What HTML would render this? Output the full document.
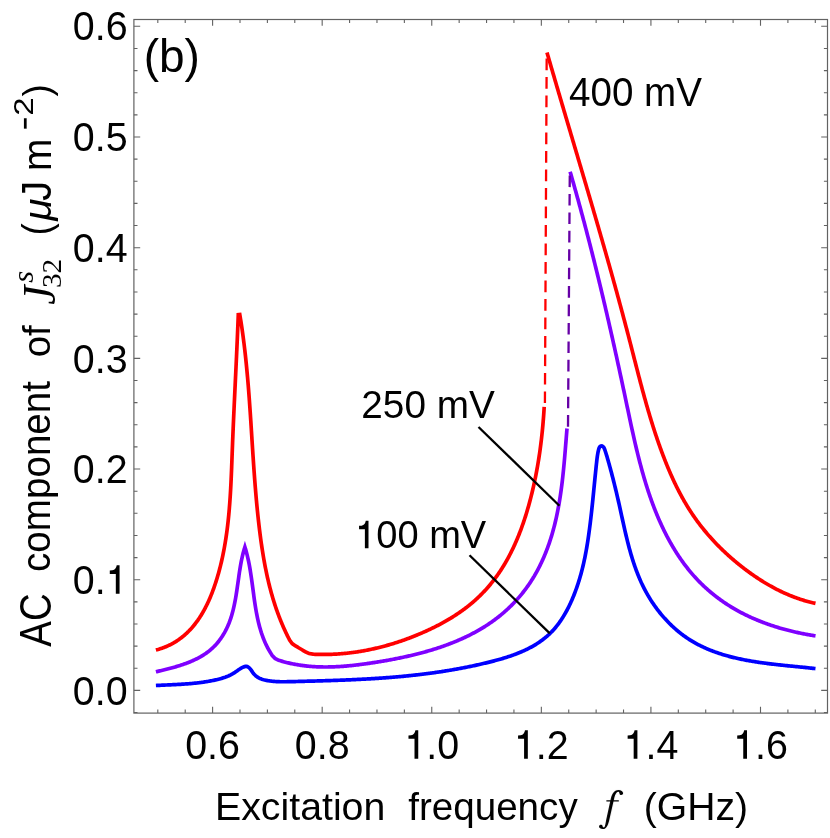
<!DOCTYPE html>
<html><head><meta charset="utf-8"><title>chart</title>
<style>
html,body{margin:0;padding:0;background:#fff;}
body{width:830px;height:838px;overflow:hidden;}
svg{display:block;}
text{font-family:"Liberation Sans",sans-serif;fill:#000;}
</style></head><body>
<svg width="830" height="838" viewBox="0 0 830 838">
<rect x="0" y="0" width="830" height="838" fill="#ffffff"/>
<rect x="133.9" y="19.5" width="693.60" height="693.60" fill="none" stroke="#626262" stroke-width="1.2"/>
<path d="M157.81 713.1 v-3.6 M157.81 19.5 v3.6 M185.21 713.1 v-3.6 M185.21 19.5 v3.6 M212.60 713.1 v-6.3 M212.60 19.5 v6.3 M240.00 713.1 v-3.6 M240.00 19.5 v3.6 M267.39 713.1 v-3.6 M267.39 19.5 v3.6 M294.78 713.1 v-3.6 M294.78 19.5 v3.6 M322.18 713.1 v-6.3 M322.18 19.5 v6.3 M349.58 713.1 v-3.6 M349.58 19.5 v3.6 M376.97 713.1 v-3.6 M376.97 19.5 v3.6 M404.37 713.1 v-3.6 M404.37 19.5 v3.6 M431.76 713.1 v-6.3 M431.76 19.5 v6.3 M459.16 713.1 v-3.6 M459.16 19.5 v3.6 M486.55 713.1 v-3.6 M486.55 19.5 v3.6 M513.94 713.1 v-3.6 M513.94 19.5 v3.6 M541.34 713.1 v-6.3 M541.34 19.5 v6.3 M568.74 713.1 v-3.6 M568.74 19.5 v3.6 M596.13 713.1 v-3.6 M596.13 19.5 v3.6 M623.53 713.1 v-3.6 M623.53 19.5 v3.6 M650.92 713.1 v-6.3 M650.92 19.5 v6.3 M678.32 713.1 v-3.6 M678.32 19.5 v3.6 M705.71 713.1 v-3.6 M705.71 19.5 v3.6 M733.11 713.1 v-3.6 M733.11 19.5 v3.6 M760.50 713.1 v-6.3 M760.50 19.5 v6.3 M787.90 713.1 v-3.6 M787.90 19.5 v3.6 M815.29 713.1 v-3.6 M815.29 19.5 v3.6 M133.9 712.54 h3.6 M827.5 712.54 h-3.6 M133.9 690.40 h6.3 M827.5 690.40 h-6.3 M133.9 668.26 h3.6 M827.5 668.26 h-3.6 M133.9 646.13 h3.6 M827.5 646.13 h-3.6 M133.9 623.99 h3.6 M827.5 623.99 h-3.6 M133.9 601.86 h3.6 M827.5 601.86 h-3.6 M133.9 579.72 h6.3 M827.5 579.72 h-6.3 M133.9 557.58 h3.6 M827.5 557.58 h-3.6 M133.9 535.45 h3.6 M827.5 535.45 h-3.6 M133.9 513.31 h3.6 M827.5 513.31 h-3.6 M133.9 491.18 h3.6 M827.5 491.18 h-3.6 M133.9 469.04 h6.3 M827.5 469.04 h-6.3 M133.9 446.90 h3.6 M827.5 446.90 h-3.6 M133.9 424.77 h3.6 M827.5 424.77 h-3.6 M133.9 402.63 h3.6 M827.5 402.63 h-3.6 M133.9 380.50 h3.6 M827.5 380.50 h-3.6 M133.9 358.36 h6.3 M827.5 358.36 h-6.3 M133.9 336.22 h3.6 M827.5 336.22 h-3.6 M133.9 314.09 h3.6 M827.5 314.09 h-3.6 M133.9 291.95 h3.6 M827.5 291.95 h-3.6 M133.9 269.82 h3.6 M827.5 269.82 h-3.6 M133.9 247.68 h6.3 M827.5 247.68 h-6.3 M133.9 225.54 h3.6 M827.5 225.54 h-3.6 M133.9 203.41 h3.6 M827.5 203.41 h-3.6 M133.9 181.27 h3.6 M827.5 181.27 h-3.6 M133.9 159.14 h3.6 M827.5 159.14 h-3.6 M133.9 137.00 h6.3 M827.5 137.00 h-6.3 M133.9 114.86 h3.6 M827.5 114.86 h-3.6 M133.9 92.73 h3.6 M827.5 92.73 h-3.6 M133.9 70.59 h3.6 M827.5 70.59 h-3.6 M133.9 48.46 h3.6 M827.5 48.46 h-3.6 M133.9 26.32 h6.3 M827.5 26.32 h-6.3" fill="none" stroke="#626262" stroke-width="1.1"/>
<path d="M155.90 685.50 L156.90 685.45 L157.90 685.40 L158.90 685.35 L159.90 685.30 L160.90 685.25 L161.90 685.20 L162.90 685.16 L163.90 685.11 L164.90 685.07 L165.90 685.02 L166.90 684.98 L167.90 684.93 L168.90 684.89 L169.90 684.84 L170.90 684.80 L171.90 684.75 L172.90 684.70 L173.90 684.65 L174.89 684.61 L175.89 684.55 L176.89 684.50 L177.89 684.45 L178.89 684.39 L179.88 684.34 L180.88 684.28 L181.88 684.22 L182.88 684.16 L183.87 684.09 L184.87 684.02 L185.87 683.95 L186.86 683.88 L187.86 683.81 L188.85 683.73 L189.85 683.64 L190.84 683.56 L191.84 683.47 L192.83 683.38 L193.83 683.28 L194.82 683.18 L195.81 683.08 L196.81 682.97 L197.80 682.86 L198.79 682.74 L199.78 682.62 L200.78 682.49 L201.77 682.36 L202.76 682.22 L203.75 682.08 L204.74 681.94 L205.73 681.78 L206.72 681.63 L207.70 681.46 L208.69 681.29 L209.68 681.12 L210.67 680.94 L211.65 680.75 L212.64 680.55 L213.63 680.35 L214.61 680.15 L215.60 679.93 L216.58 679.71 L217.56 679.47 L218.53 679.23 L219.50 678.97 L220.47 678.71 L221.44 678.43 L222.39 678.14 L223.34 677.84 L224.29 677.52 L225.23 677.19 L226.16 676.84 L227.08 676.48 L228.00 676.10 L228.90 675.70 L229.80 675.28 L230.68 674.85 L231.55 674.39 L232.42 673.92 L233.26 673.42 L234.10 672.90 L234.93 672.36 L235.74 671.80 L236.55 671.23 L237.37 670.66 L238.19 670.08 L239.02 669.51 L239.87 668.96 L240.75 668.42 L241.65 667.91 L242.59 667.43 L243.56 666.99 L244.56 666.64 L245.53 666.42 L246.47 666.38 L247.35 666.57 L248.16 666.97 L248.92 667.54 L249.65 668.25 L250.34 669.07 L251.02 669.96 L251.68 670.91 L252.34 671.86 L253.02 672.81 L253.71 673.70 L254.43 674.52 L255.17 675.27 L255.94 675.95 L256.74 676.57 L257.55 677.13 L258.39 677.63 L259.24 678.08 L260.11 678.49 L261.00 678.86 L261.90 679.18 L262.81 679.48 L263.73 679.74 L264.66 679.98 L265.59 680.20 L266.54 680.40 L267.48 680.58 L268.44 680.75 L269.40 680.90 L270.36 681.04 L271.33 681.16 L272.30 681.27 L273.27 681.36 L274.25 681.45 L275.24 681.52 L276.23 681.58 L277.22 681.63 L278.21 681.67 L279.21 681.70 L280.21 681.73 L281.21 681.74 L282.21 681.75 L283.21 681.76 L284.22 681.75 L285.23 681.75 L286.24 681.73 L287.25 681.72 L288.26 681.70 L289.27 681.68 L290.29 681.65 L291.30 681.63 L292.31 681.60 L293.32 681.58 L294.33 681.55 L295.34 681.53 L296.35 681.50 L297.37 681.48 L298.38 681.45 L299.39 681.43 L300.40 681.40 L301.40 681.38 L302.41 681.35 L303.42 681.32 L304.43 681.30 L305.44 681.27 L306.45 681.25 L307.45 681.22 L308.46 681.19 L309.47 681.17 L310.48 681.14 L311.48 681.11 L312.49 681.09 L313.49 681.06 L314.50 681.03 L315.51 681.00 L316.51 680.98 L317.52 680.95 L318.52 680.92 L319.53 680.89 L320.53 680.86 L321.53 680.83 L322.54 680.80 L323.54 680.77 L324.54 680.74 L325.55 680.71 L326.55 680.68 L327.55 680.65 L328.55 680.62 L329.56 680.58 L330.56 680.55 L331.56 680.52 L332.56 680.49 L333.56 680.45 L334.56 680.42 L335.56 680.38 L336.56 680.35 L337.56 680.31 L338.56 680.27 L339.56 680.24 L340.56 680.20 L341.56 680.16 L342.56 680.12 L343.56 680.08 L344.56 680.04 L345.56 680.00 L346.56 679.96 L347.55 679.92 L348.55 679.88 L349.55 679.84 L350.55 679.79 L351.54 679.75 L352.54 679.70 L353.54 679.66 L354.54 679.61 L355.53 679.57 L356.53 679.52 L357.52 679.47 L358.52 679.42 L359.52 679.37 L360.51 679.32 L361.51 679.27 L362.50 679.22 L363.50 679.17 L364.49 679.11 L365.49 679.06 L366.48 679.00 L367.48 678.95 L368.47 678.89 L369.47 678.83 L370.46 678.78 L371.45 678.72 L372.45 678.66 L373.44 678.59 L374.43 678.53 L375.43 678.47 L376.42 678.41 L377.41 678.34 L378.41 678.28 L379.40 678.21 L380.39 678.14 L381.39 678.07 L382.38 678.00 L383.37 677.93 L384.36 677.86 L385.35 677.79 L386.35 677.71 L387.34 677.64 L388.33 677.56 L389.32 677.49 L390.31 677.41 L391.30 677.33 L392.30 677.25 L393.29 677.17 L394.28 677.08 L395.27 677.00 L396.26 676.91 L397.25 676.83 L398.24 676.74 L399.23 676.65 L400.22 676.56 L401.21 676.47 L402.20 676.38 L403.19 676.29 L404.18 676.19 L405.17 676.10 L406.16 676.00 L407.15 675.90 L408.14 675.80 L409.13 675.70 L410.12 675.60 L411.11 675.49 L412.10 675.39 L413.09 675.28 L414.08 675.17 L415.07 675.06 L416.06 674.95 L417.05 674.84 L418.04 674.73 L419.03 674.61 L420.01 674.50 L421.00 674.38 L421.99 674.26 L422.98 674.14 L423.97 674.02 L424.96 673.89 L425.95 673.77 L426.94 673.64 L427.92 673.52 L428.91 673.39 L429.90 673.25 L430.89 673.12 L431.88 672.99 L432.87 672.85 L433.86 672.71 L434.84 672.57 L435.83 672.43 L436.82 672.29 L437.81 672.15 L438.80 672.00 L439.79 671.85 L440.78 671.71 L441.76 671.56 L442.75 671.40 L443.74 671.25 L444.73 671.09 L445.72 670.94 L446.71 670.78 L447.69 670.62 L448.68 670.45 L449.67 670.29 L450.66 670.12 L451.65 669.95 L452.64 669.78 L453.63 669.61 L454.61 669.44 L455.60 669.26 L456.59 669.09 L457.58 668.91 L458.57 668.73 L459.56 668.54 L460.55 668.36 L461.53 668.17 L462.52 667.98 L463.51 667.79 L464.50 667.60 L465.49 667.41 L466.48 667.21 L467.47 667.01 L468.46 666.81 L469.45 666.61 L470.43 666.40 L471.42 666.20 L472.41 665.99 L473.40 665.78 L474.39 665.57 L475.38 665.35 L476.37 665.13 L477.36 664.92 L478.35 664.69 L479.34 664.47 L480.33 664.25 L481.32 664.02 L482.31 663.79 L483.30 663.56 L484.29 663.32 L485.28 663.09 L486.27 662.85 L487.26 662.61 L488.25 662.37 L489.24 662.12 L490.23 661.87 L491.22 661.62 L492.21 661.37 L493.20 661.11 L494.18 660.86 L495.17 660.59 L496.16 660.33 L497.14 660.06 L498.12 659.79 L499.11 659.51 L500.09 659.23 L501.06 658.95 L502.04 658.66 L503.02 658.37 L503.99 658.08 L504.96 657.78 L505.93 657.47 L506.90 657.16 L507.86 656.85 L508.83 656.53 L509.79 656.21 L510.74 655.89 L511.70 655.55 L512.65 655.22 L513.60 654.87 L514.54 654.53 L515.48 654.17 L516.42 653.82 L517.35 653.45 L518.28 653.08 L519.21 652.71 L520.14 652.32 L521.05 651.94 L521.97 651.54 L522.88 651.14 L523.79 650.74 L524.69 650.32 L525.59 649.90 L526.48 649.48 L527.37 649.04 L528.25 648.60 L529.13 648.15 L530.00 647.70 L530.87 647.24 L531.73 646.77 L532.58 646.29 L533.43 645.81 L534.28 645.31 L535.12 644.81 L535.95 644.30 L536.78 643.79 L537.60 643.26 L538.41 642.73 L539.22 642.19 L540.02 641.64 L540.82 641.08 L541.60 640.51 L542.38 639.94 L543.16 639.35 L543.92 638.76 L544.68 638.15 L545.43 637.54 L546.18 636.92 L546.92 636.29 L547.64 635.65 L548.36 635.00 L549.08 634.34 L549.78 633.66 L550.48 632.98 L551.17 632.29 L551.85 631.59 L552.52 630.88 L553.18 630.16 L553.84 629.43 L554.49 628.69 L555.13 627.94 L555.76 627.19 L556.38 626.42 L557.00 625.65 L557.61 624.87 L558.21 624.08 L558.80 623.28 L559.38 622.47 L559.96 621.66 L560.53 620.84 L561.10 620.01 L561.65 619.18 L562.20 618.34 L562.74 617.49 L563.27 616.64 L563.80 615.78 L564.32 614.91 L564.83 614.04 L565.34 613.16 L565.84 612.28 L566.33 611.39 L566.81 610.50 L567.29 609.60 L567.76 608.70 L568.23 607.79 L568.69 606.88 L569.14 605.96 L569.58 605.04 L570.02 604.12 L570.46 603.19 L570.88 602.26 L571.30 601.33 L571.72 600.39 L572.12 599.46 L572.53 598.51 L572.92 597.57 L573.31 596.62 L573.70 595.68 L574.07 594.73 L574.45 593.78 L574.81 592.82 L575.17 591.87 L575.53 590.91 L575.88 589.96 L576.22 589.00 L576.56 588.05 L576.89 587.09 L577.22 586.13 L577.55 585.17 L577.86 584.22 L578.17 583.26 L578.48 582.30 L578.78 581.34 L579.08 580.39 L579.37 579.43 L579.66 578.47 L579.94 577.51 L580.22 576.55 L580.50 575.59 L580.77 574.63 L581.03 573.67 L581.29 572.71 L581.55 571.75 L581.80 570.79 L582.04 569.83 L582.29 568.87 L582.53 567.91 L582.76 566.95 L582.99 565.99 L583.22 565.02 L583.44 564.06 L583.66 563.09 L583.88 562.13 L584.09 561.16 L584.30 560.20 L584.51 559.23 L584.71 558.27 L584.91 557.30 L585.10 556.33 L585.29 555.36 L585.48 554.39 L585.67 553.42 L585.85 552.45 L586.03 551.48 L586.21 550.51 L586.38 549.53 L586.56 548.56 L586.72 547.58 L586.89 546.61 L587.05 545.63 L587.22 544.65 L587.37 543.68 L587.53 542.70 L587.69 541.72 L587.84 540.73 L587.99 539.75 L588.14 538.77 L588.28 537.78 L588.43 536.80 L588.57 535.81 L588.71 534.82 L588.85 533.84 L588.98 532.85 L589.12 531.86 L589.25 530.86 L589.38 529.87 L589.51 528.88 L589.64 527.88 L589.77 526.88 L589.90 525.88 L590.02 524.89 L590.15 523.89 L590.27 522.89 L590.39 521.88 L590.51 520.88 L590.63 519.88 L590.75 518.87 L590.87 517.87 L590.98 516.86 L591.10 515.86 L591.21 514.85 L591.33 513.85 L591.44 512.84 L591.55 511.83 L591.66 510.83 L591.77 509.82 L591.88 508.81 L591.99 507.80 L592.09 506.79 L592.20 505.79 L592.31 504.78 L592.41 503.77 L592.52 502.76 L592.62 501.75 L592.72 500.75 L592.83 499.74 L592.93 498.73 L593.03 497.73 L593.13 496.72 L593.23 495.71 L593.33 494.71 L593.43 493.70 L593.53 492.70 L593.63 491.70 L593.73 490.70 L593.83 489.69 L593.93 488.69 L594.03 487.69 L594.13 486.70 L594.23 485.70 L594.32 484.70 L594.42 483.71 L594.52 482.71 L594.62 481.72 L594.72 480.73 L594.81 479.73 L594.91 478.75 L595.01 477.76 L595.11 476.77 L595.21 475.79 L595.31 474.80 L595.41 473.82 L595.51 472.84 L595.61 471.86 L595.71 470.89 L595.81 469.91 L595.91 468.94 L596.01 467.97 L596.11 467.00 L596.21 466.03 L596.32 465.07 L596.42 464.11 L596.52 463.14 L596.63 462.19 L596.73 461.23 L596.84 460.28 L596.95 459.32 L597.06 458.37 L597.18 457.41 L597.31 456.44 L597.46 455.46 L597.62 454.47 L597.79 453.46 L597.99 452.44 L598.20 451.40 L598.44 450.33 L598.71 449.24 L599.04 448.18 L599.49 447.24 L600.09 446.49 L600.89 446.03 L601.78 445.95 L602.65 446.29 L603.39 446.93 L603.96 447.77 L604.41 448.73 L604.79 449.75 L605.14 450.76 L605.47 451.77 L605.79 452.75 L606.10 453.72 L606.40 454.68 L606.69 455.63 L606.97 456.58 L607.25 457.51 L607.52 458.45 L607.78 459.38 L608.05 460.31 L608.31 461.24 L608.58 462.18 L608.84 463.12 L609.10 464.06 L609.36 465.00 L609.62 465.94 L609.88 466.88 L610.13 467.83 L610.39 468.78 L610.65 469.73 L610.90 470.68 L611.15 471.63 L611.41 472.58 L611.66 473.54 L611.91 474.50 L612.16 475.45 L612.41 476.41 L612.66 477.38 L612.91 478.34 L613.15 479.30 L613.40 480.27 L613.64 481.23 L613.89 482.20 L614.13 483.17 L614.37 484.14 L614.61 485.11 L614.85 486.08 L615.09 487.05 L615.33 488.02 L615.56 489.00 L615.80 489.97 L616.03 490.95 L616.27 491.93 L616.50 492.91 L616.73 493.88 L616.96 494.86 L617.19 495.84 L617.42 496.82 L617.65 497.81 L617.87 498.79 L618.10 499.77 L618.32 500.75 L618.55 501.74 L618.77 502.72 L618.99 503.71 L619.21 504.69 L619.43 505.68 L619.65 506.66 L619.87 507.65 L620.08 508.63 L620.30 509.62 L620.52 510.61 L620.73 511.59 L620.95 512.58 L621.16 513.57 L621.38 514.55 L621.60 515.54 L621.81 516.53 L622.03 517.52 L622.24 518.50 L622.46 519.49 L622.68 520.48 L622.89 521.46 L623.11 522.45 L623.33 523.44 L623.55 524.42 L623.77 525.41 L623.99 526.39 L624.21 527.38 L624.43 528.36 L624.65 529.35 L624.88 530.33 L625.10 531.31 L625.33 532.30 L625.56 533.28 L625.79 534.26 L626.02 535.24 L626.26 536.22 L626.49 537.20 L626.73 538.18 L626.97 539.16 L627.21 540.13 L627.45 541.11 L627.69 542.08 L627.94 543.06 L628.19 544.03 L628.44 545.00 L628.70 545.97 L628.95 546.94 L629.21 547.91 L629.48 548.88 L629.74 549.85 L630.01 550.81 L630.28 551.78 L630.55 552.74 L630.83 553.70 L631.11 554.66 L631.39 555.62 L631.68 556.58 L631.97 557.54 L632.26 558.49 L632.56 559.44 L632.86 560.40 L633.16 561.35 L633.47 562.29 L633.78 563.24 L634.10 564.19 L634.42 565.13 L634.74 566.07 L635.07 567.01 L635.40 567.95 L635.74 568.89 L636.08 569.82 L636.43 570.75 L636.78 571.68 L637.14 572.61 L637.50 573.54 L637.86 574.46 L638.23 575.38 L638.61 576.30 L638.99 577.22 L639.37 578.14 L639.76 579.05 L640.16 579.96 L640.56 580.87 L640.96 581.78 L641.38 582.68 L641.79 583.59 L642.22 584.49 L642.65 585.38 L643.08 586.28 L643.52 587.17 L643.97 588.06 L644.42 588.95 L644.88 589.83 L645.35 590.71 L645.82 591.59 L646.30 592.47 L646.79 593.34 L647.28 594.21 L647.78 595.08 L648.28 595.94 L648.79 596.80 L649.31 597.66 L649.84 598.52 L650.37 599.37 L650.90 600.22 L651.45 601.06 L652.00 601.90 L652.55 602.74 L653.11 603.58 L653.68 604.41 L654.25 605.23 L654.83 606.06 L655.42 606.87 L656.01 607.69 L656.61 608.50 L657.21 609.30 L657.82 610.11 L658.44 610.90 L659.06 611.70 L659.69 612.48 L660.32 613.27 L660.96 614.05 L661.60 614.82 L662.25 615.59 L662.91 616.35 L663.57 617.11 L664.24 617.87 L664.91 618.61 L665.59 619.36 L666.27 620.10 L666.96 620.83 L667.65 621.55 L668.35 622.28 L669.05 622.99 L669.76 623.70 L670.48 624.41 L671.20 625.10 L671.92 625.80 L672.65 626.48 L673.39 627.16 L674.13 627.83 L674.87 628.50 L675.62 629.16 L676.38 629.82 L677.14 630.46 L677.90 631.10 L678.67 631.74 L679.44 632.37 L680.22 632.99 L681.01 633.60 L681.79 634.21 L682.59 634.81 L683.38 635.40 L684.19 635.98 L684.99 636.56 L685.80 637.13 L686.62 637.69 L687.44 638.25 L688.26 638.80 L689.09 639.33 L689.92 639.87 L690.76 640.39 L691.60 640.91 L692.44 641.42 L693.29 641.92 L694.15 642.41 L695.00 642.90 L695.86 643.38 L696.73 643.85 L697.60 644.31 L698.47 644.77 L699.35 645.22 L700.23 645.66 L701.11 646.10 L702.00 646.53 L702.89 646.95 L703.78 647.37 L704.68 647.78 L705.58 648.18 L706.48 648.58 L707.39 648.97 L708.30 649.35 L709.22 649.73 L710.13 650.10 L711.05 650.47 L711.98 650.83 L712.90 651.18 L713.83 651.53 L714.76 651.87 L715.70 652.21 L716.63 652.54 L717.57 652.86 L718.52 653.18 L719.46 653.49 L720.41 653.80 L721.36 654.10 L722.31 654.40 L723.27 654.69 L724.22 654.98 L725.18 655.26 L726.14 655.54 L727.11 655.81 L728.07 656.08 L729.04 656.34 L730.01 656.60 L730.99 656.85 L731.96 657.10 L732.94 657.34 L733.91 657.58 L734.89 657.81 L735.88 658.04 L736.86 658.27 L737.84 658.49 L738.83 658.71 L739.82 658.92 L740.81 659.13 L741.80 659.34 L742.79 659.54 L743.78 659.74 L744.78 659.94 L745.77 660.13 L746.77 660.31 L747.77 660.50 L748.77 660.68 L749.77 660.85 L750.77 661.03 L751.77 661.20 L752.78 661.37 L753.78 661.53 L754.78 661.69 L755.79 661.85 L756.79 662.01 L757.80 662.16 L758.81 662.31 L759.82 662.46 L760.82 662.60 L761.83 662.74 L762.84 662.88 L763.85 663.02 L764.86 663.16 L765.87 663.29 L766.88 663.42 L767.89 663.55 L768.90 663.68 L769.91 663.80 L770.92 663.92 L771.93 664.04 L772.94 664.16 L773.95 664.28 L774.96 664.40 L775.97 664.51 L776.97 664.62 L777.98 664.74 L778.99 664.85 L780.00 664.95 L781.00 665.06 L782.01 665.17 L783.02 665.27 L784.02 665.38 L785.02 665.48 L786.03 665.58 L787.03 665.69 L788.03 665.79 L789.03 665.89 L790.03 665.99 L791.03 666.09 L792.02 666.19 L793.02 666.28 L794.01 666.38 L795.01 666.48 L796.00 666.58 L796.99 666.68 L797.98 666.77 L798.97 666.87 L799.95 666.97 L800.94 667.07 L801.92 667.17 L802.90 667.27 L803.88 667.36 L804.86 667.46 L805.83 667.56 L806.81 667.67 L807.78 667.77 L808.75 667.87 L809.72 667.97 L810.68 668.08 L811.65 668.18 L812.61 668.29 L813.57 668.39 L814.53 668.50 L815.48 668.61" fill="none" stroke="#0000ff" stroke-width="3.7" stroke-linejoin="miter" stroke-miterlimit="10"/>
<path d="M155.89 671.78 L156.83 671.57 L157.76 671.36 L158.71 671.14 L159.66 670.92 L160.61 670.70 L161.57 670.47 L162.53 670.24 L163.49 670.01 L164.46 669.78 L165.43 669.54 L166.40 669.29 L167.38 669.05 L168.36 668.80 L169.34 668.54 L170.32 668.28 L171.30 668.02 L172.29 667.75 L173.27 667.48 L174.25 667.20 L175.24 666.92 L176.22 666.63 L177.21 666.33 L178.19 666.03 L179.17 665.73 L180.15 665.41 L181.13 665.09 L182.11 664.77 L183.08 664.44 L184.05 664.10 L185.02 663.75 L185.99 663.40 L186.95 663.04 L187.91 662.67 L188.86 662.29 L189.81 661.91 L190.75 661.51 L191.69 661.11 L192.63 660.70 L193.55 660.29 L194.48 659.86 L195.39 659.43 L196.30 658.98 L197.20 658.53 L198.10 658.06 L198.99 657.59 L199.87 657.11 L200.74 656.62 L201.60 656.11 L202.46 655.60 L203.30 655.08 L204.14 654.54 L204.96 654.00 L205.78 653.44 L206.59 652.87 L207.38 652.29 L208.17 651.70 L208.94 651.10 L209.71 650.49 L210.46 649.86 L211.20 649.22 L211.92 648.57 L212.64 647.91 L213.34 647.24 L214.04 646.55 L214.72 645.86 L215.39 645.15 L216.04 644.44 L216.69 643.71 L217.32 642.97 L217.95 642.22 L218.56 641.47 L219.16 640.70 L219.74 639.92 L220.32 639.14 L220.89 638.34 L221.44 637.54 L221.98 636.73 L222.51 635.91 L223.03 635.08 L223.54 634.25 L224.04 633.40 L224.53 632.55 L225.00 631.69 L225.47 630.83 L225.92 629.96 L226.36 629.08 L226.79 628.19 L227.21 627.30 L227.62 626.40 L228.02 625.50 L228.41 624.59 L228.78 623.68 L229.15 622.76 L229.50 621.83 L229.85 620.90 L230.18 619.97 L230.51 619.03 L230.82 618.09 L231.13 617.14 L231.43 616.18 L231.72 615.23 L232.00 614.27 L232.27 613.30 L232.54 612.33 L232.79 611.36 L233.04 610.39 L233.29 609.41 L233.52 608.43 L233.75 607.44 L233.97 606.45 L234.19 605.46 L234.40 604.47 L234.60 603.47 L234.80 602.47 L235.00 601.47 L235.19 600.47 L235.37 599.47 L235.55 598.46 L235.72 597.45 L235.90 596.44 L236.06 595.43 L236.23 594.42 L236.39 593.40 L236.55 592.39 L236.70 591.37 L236.86 590.36 L237.01 589.34 L237.16 588.32 L237.30 587.31 L237.45 586.29 L237.59 585.27 L237.74 584.25 L237.88 583.24 L238.02 582.22 L238.16 581.20 L238.31 580.19 L238.45 579.17 L238.59 578.16 L238.73 577.14 L238.88 576.13 L239.02 575.12 L239.17 574.11 L239.32 573.10 L239.47 572.10 L239.62 571.09 L239.78 570.09 L239.94 569.09 L240.10 568.10 L240.26 567.10 L240.43 566.11 L240.60 565.12 L240.78 564.13 L240.96 563.15 L241.14 562.17 L241.33 561.19 L241.53 560.22 L241.72 559.25 L241.93 558.28 L242.14 557.32 L242.36 556.36 L242.58 555.40 L242.81 554.45 L243.04 553.51 L243.29 552.56 L243.53 551.63 L243.79 550.69 L244.06 549.77 L244.33 548.84 L244.61 547.93 L244.90 547.02 L245.19 547.95 L245.48 548.90 L245.76 549.85 L246.03 550.81 L246.29 551.77 L246.55 552.73 L246.80 553.69 L247.05 554.66 L247.29 555.63 L247.52 556.60 L247.75 557.57 L247.97 558.55 L248.19 559.53 L248.40 560.51 L248.60 561.49 L248.80 562.48 L249.00 563.46 L249.19 564.45 L249.38 565.44 L249.56 566.43 L249.74 567.43 L249.91 568.42 L250.08 569.42 L250.25 570.42 L250.41 571.42 L250.57 572.42 L250.73 573.42 L250.88 574.42 L251.03 575.43 L251.18 576.43 L251.33 577.44 L251.48 578.44 L251.62 579.45 L251.76 580.46 L251.90 581.47 L252.04 582.48 L252.18 583.49 L252.31 584.50 L252.45 585.51 L252.58 586.53 L252.72 587.54 L252.85 588.55 L252.98 589.56 L253.12 590.57 L253.25 591.59 L253.39 592.60 L253.52 593.61 L253.66 594.62 L253.79 595.63 L253.93 596.65 L254.07 597.66 L254.21 598.67 L254.36 599.67 L254.50 600.68 L254.65 601.69 L254.80 602.70 L254.95 603.70 L255.10 604.71 L255.26 605.71 L255.42 606.72 L255.58 607.72 L255.75 608.72 L255.92 609.72 L256.09 610.72 L256.27 611.71 L256.45 612.71 L256.63 613.70 L256.82 614.69 L257.02 615.68 L257.22 616.67 L257.42 617.66 L257.63 618.64 L257.85 619.62 L258.07 620.60 L258.29 621.58 L258.52 622.56 L258.76 623.53 L259.01 624.50 L259.26 625.47 L259.51 626.44 L259.78 627.40 L260.05 628.36 L260.33 629.32 L260.61 630.27 L260.90 631.22 L261.21 632.17 L261.51 633.12 L261.83 634.06 L262.15 635.00 L262.49 635.94 L262.83 636.87 L263.18 637.80 L263.54 638.73 L263.91 639.65 L264.28 640.57 L264.67 641.49 L265.07 642.40 L265.47 643.31 L265.89 644.21 L266.32 645.11 L266.76 646.01 L267.20 646.90 L267.66 647.79 L268.13 648.67 L268.61 649.55 L269.10 650.42 L269.61 651.29 L270.12 652.16 L270.65 653.02 L271.19 653.88 L271.74 654.73 L272.30 655.58 Q274.68 658.91 278.59 660.23 L279.57 660.54 L280.55 660.83 L281.52 661.12 L282.50 661.40 L283.48 661.67 L284.45 661.93 L285.43 662.19 L286.41 662.43 L287.38 662.68 L288.36 662.91 L289.34 663.14 L290.31 663.36 L291.29 663.57 L292.27 663.77 L293.25 663.97 L294.22 664.16 L295.20 664.35 L296.18 664.52 L297.15 664.69 L298.13 664.86 L299.11 665.01 L300.09 665.17 L301.07 665.31 L302.04 665.45 L303.02 665.58 L304.00 665.70 L304.98 665.82 L305.96 665.93 L306.94 666.04 L307.91 666.14 L308.89 666.24 L309.87 666.32 L310.85 666.41 L311.83 666.48 L312.81 666.56 L313.79 666.62 L314.77 666.68 L315.75 666.74 L316.73 666.79 L317.71 666.83 L318.69 666.87 L319.67 666.90 L320.65 666.93 L321.63 666.95 L322.62 666.97 L323.60 666.98 L324.58 666.99 L325.56 666.99 L326.54 666.99 L327.53 666.98 L328.51 666.97 L329.49 666.96 L330.48 666.94 L331.46 666.91 L332.44 666.88 L333.43 666.85 L334.41 666.81 L335.40 666.77 L336.38 666.72 L337.37 666.67 L338.35 666.62 L339.34 666.56 L340.32 666.50 L341.31 666.43 L342.30 666.36 L343.28 666.29 L344.27 666.21 L345.26 666.13 L346.25 666.05 L347.24 665.96 L348.22 665.87 L349.21 665.78 L350.20 665.68 L351.19 665.58 L352.18 665.47 L353.17 665.37 L354.17 665.26 L355.16 665.15 L356.15 665.03 L357.14 664.91 L358.13 664.79 L359.13 664.67 L360.12 664.54 L361.11 664.42 L362.11 664.28 L363.10 664.15 L364.10 664.02 L365.09 663.88 L366.09 663.74 L367.08 663.60 L368.08 663.45 L369.08 663.31 L370.07 663.16 L371.07 663.01 L372.07 662.86 L373.07 662.70 L374.07 662.55 L375.07 662.39 L376.07 662.24 L377.07 662.08 L378.07 661.91 L379.07 661.75 L380.07 661.59 L381.08 661.42 L382.08 661.25 L383.08 661.08 L384.08 660.91 L385.09 660.73 L386.09 660.56 L387.09 660.38 L388.10 660.20 L389.10 660.02 L390.10 659.83 L391.10 659.65 L392.11 659.46 L393.11 659.27 L394.11 659.08 L395.11 658.88 L396.12 658.69 L397.12 658.49 L398.12 658.29 L399.12 658.08 L400.12 657.88 L401.12 657.67 L402.12 657.46 L403.12 657.25 L404.12 657.03 L405.12 656.81 L406.12 656.59 L407.12 656.37 L408.11 656.15 L409.11 655.92 L410.11 655.69 L411.10 655.46 L412.09 655.22 L413.09 654.98 L414.08 654.74 L415.07 654.50 L416.06 654.25 L417.05 654.00 L418.04 653.75 L419.03 653.50 L420.02 653.24 L421.00 652.98 L421.99 652.72 L422.97 652.45 L423.96 652.18 L424.94 651.91 L425.92 651.64 L426.90 651.36 L427.88 651.08 L428.85 650.79 L429.83 650.51 L430.80 650.21 L431.77 649.92 L432.75 649.62 L433.72 649.33 L434.68 649.02 L435.65 648.72 L436.62 648.41 L437.58 648.09 L438.54 647.78 L439.50 647.46 L440.46 647.13 L441.42 646.81 L442.37 646.48 L443.33 646.14 L444.28 645.81 L445.23 645.47 L446.18 645.12 L447.12 644.78 L448.07 644.42 L449.01 644.07 L449.95 643.71 L450.89 643.35 L451.83 642.98 L452.76 642.61 L453.69 642.24 L454.62 641.86 L455.55 641.48 L456.47 641.10 L457.40 640.71 L458.32 640.31 L459.24 639.92 L460.15 639.52 L461.07 639.11 L461.98 638.70 L462.89 638.29 L463.79 637.87 L464.70 637.45 L465.60 637.03 L466.50 636.60 L467.39 636.16 L468.29 635.73 L469.18 635.28 L470.07 634.84 L470.95 634.39 L471.84 633.93 L472.72 633.47 L473.59 633.01 L474.47 632.54 L475.34 632.07 L476.21 631.59 L477.07 631.11 L477.93 630.63 L478.79 630.14 L479.65 629.64 L480.50 629.14 L481.35 628.64 L482.20 628.13 L483.04 627.61 L483.88 627.10 L484.72 626.57 L485.56 626.05 L486.39 625.51 L487.21 624.98 L488.04 624.43 L488.86 623.89 L489.67 623.34 L490.49 622.78 L491.30 622.22 L492.10 621.65 L492.91 621.08 L493.71 620.50 L494.50 619.92 L495.29 619.33 L496.08 618.74 L496.87 618.14 L497.65 617.54 L498.42 616.93 L499.20 616.32 L499.97 615.70 L500.73 615.08 L501.49 614.45 L502.25 613.82 L503.00 613.18 L503.75 612.54 L504.50 611.89 L505.24 611.23 L505.98 610.57 L506.71 609.91 L507.44 609.24 L508.16 608.56 L508.88 607.89 L509.60 607.20 L510.31 606.51 L511.02 605.82 L511.72 605.12 L512.42 604.41 L513.11 603.71 L513.80 602.99 L514.48 602.27 L515.16 601.55 L515.84 600.82 L516.51 600.09 L517.17 599.36 L517.83 598.61 L518.49 597.87 L519.14 597.12 L519.78 596.36 L520.42 595.60 L521.06 594.84 L521.69 594.07 L522.32 593.30 L522.94 592.52 L523.55 591.74 L524.16 590.96 L524.77 590.17 L525.37 589.37 L525.96 588.58 L526.55 587.77 L527.14 586.97 L527.71 586.16 L528.29 585.34 L528.86 584.52 L529.42 583.70 L529.97 582.88 L530.53 582.05 L531.07 581.21 L531.61 580.37 L532.14 579.53 L532.67 578.69 L533.20 577.84 L533.71 576.98 L534.23 576.13 L534.73 575.27 L535.23 574.40 L535.73 573.54 L536.22 572.66 L536.70 571.79 L537.18 570.91 L537.65 570.03 L538.12 569.15 L538.58 568.26 L539.04 567.37 L539.49 566.48 L539.94 565.58 L540.38 564.68 L540.82 563.78 L541.25 562.88 L541.68 561.97 L542.10 561.06 L542.52 560.14 L542.93 559.23 L543.33 558.31 L543.73 557.39 L544.13 556.47 L544.52 555.54 L544.91 554.61 L545.29 553.68 L545.66 552.75 L546.04 551.81 L546.40 550.88 L546.76 549.94 L547.12 549.00 L547.47 548.05 L547.82 547.11 L548.16 546.16 L548.50 545.21 L548.84 544.26 L549.16 543.31 L549.49 542.35 L549.81 541.40 L550.12 540.44 L550.43 539.48 L550.74 538.52 L551.04 537.56 L551.34 536.60 L551.63 535.63 L551.92 534.67 L552.20 533.70 L552.48 532.73 L552.76 531.76 L553.03 530.79 L553.30 529.82 L553.56 528.84 L553.82 527.87 L554.08 526.89 L554.33 525.92 L554.58 524.94 L554.82 523.96 L555.06 522.98 L555.29 522.00 L555.53 521.02 L555.76 520.03 L555.98 519.05 L556.20 518.06 L556.42 517.08 L556.63 516.09 L556.84 515.10 L557.05 514.11 L557.25 513.13 L557.46 512.14 L557.65 511.14 L557.85 510.15 L558.04 509.16 L558.23 508.17 L558.41 507.17 L558.59 506.18 L558.77 505.18 L558.95 504.19 L559.12 503.19 L559.29 502.20 L559.46 501.20 L559.62 500.20 L559.78 499.20 L559.94 498.20 L560.10 497.20 L560.25 496.20 L560.40 495.20 L560.55 494.20 L560.69 493.20 L560.84 492.20 L560.98 491.20 L561.12 490.20 L561.25 489.20 L561.39 488.19 L561.52 487.19 L561.65 486.19 L561.78 485.19 L561.90 484.18 L562.03 483.18 L562.15 482.18 L562.27 481.17 L562.39 480.17 L562.50 479.17 L562.62 478.17 L562.73 477.16 L562.84 476.16 L562.95 475.16 L563.05 474.15 L563.16 473.15 L563.26 472.15 L563.37 471.14 L563.47 470.14 L563.57 469.14 L563.67 468.14 L563.76 467.14 L563.86 466.13 L563.95 465.13 L564.05 464.13 L564.14 463.13 L564.23 462.13 L564.32 461.13 L564.41 460.13 L564.50 459.13 L564.59 458.14 L564.67 457.14 L564.76 456.14 L564.84 455.14 L564.93 454.15 L565.01 453.15 L565.09 452.16 L565.18 451.16 L565.26 450.17 L565.34 449.17 L565.42 448.18 L565.50 447.19 L565.58 446.20 L565.66 445.21 L565.74 444.22 L565.82 443.23 L565.90 442.24 L565.98 441.26 L566.05 440.27 L566.13 439.28 L566.21 438.30 L566.29 437.32 L566.37 436.33 L566.45 435.35 L566.53 434.37 L566.61 433.39 L566.69 432.41 L566.76 431.44 L566.84 430.46 L566.93 429.49 L567.01 428.51" fill="none" stroke="#7f00ff" stroke-width="3.7" stroke-linejoin="miter" stroke-miterlimit="10"/>
<path d="M570.11 171.69 L570.39 172.66 L570.67 173.63 L570.95 174.60 L571.23 175.58 L571.51 176.55 L571.79 177.52 L572.07 178.49 L572.35 179.47 L572.62 180.44 L572.90 181.41 L573.18 182.38 L573.45 183.35 L573.73 184.32 L574.00 185.29 L574.28 186.26 L574.55 187.23 L574.82 188.21 L575.10 189.18 L575.37 190.15 L575.64 191.12 L575.91 192.09 L576.18 193.06 L576.45 194.03 L576.72 195.00 L576.99 195.96 L577.26 196.93 L577.53 197.90 L577.80 198.87 L578.07 199.84 L578.33 200.81 L578.60 201.78 L578.87 202.75 L579.13 203.72 L579.40 204.68 L579.66 205.65 L579.93 206.62 L580.19 207.59 L580.45 208.56 L580.72 209.53 L580.98 210.49 L581.24 211.46 L581.50 212.43 L581.76 213.40 L582.02 214.36 L582.29 215.33 L582.55 216.30 L582.80 217.27 L583.06 218.23 L583.32 219.20 L583.58 220.17 L583.84 221.14 L584.10 222.10 L584.35 223.07 L584.61 224.04 L584.86 225.00 L585.12 225.97 L585.38 226.94 L585.63 227.90 L585.88 228.87 L586.14 229.84 L586.39 230.80 L586.65 231.77 L586.90 232.74 L587.15 233.70 L587.40 234.67 L587.65 235.63 L587.90 236.60 L588.16 237.57 L588.41 238.53 L588.66 239.50 L588.91 240.46 L589.15 241.43 L589.40 242.40 L589.65 243.36 L589.90 244.33 L590.15 245.29 L590.39 246.26 L590.64 247.23 L590.89 248.19 L591.13 249.16 L591.38 250.12 L591.62 251.09 L591.87 252.05 L592.11 253.02 L592.36 253.99 L592.60 254.95 L592.85 255.92 L593.09 256.88 L593.33 257.85 L593.57 258.81 L593.82 259.78 L594.06 260.75 L594.30 261.71 L594.54 262.68 L594.78 263.64 L595.02 264.61 L595.26 265.58 L595.50 266.54 L595.74 267.51 L595.98 268.47 L596.22 269.44 L596.45 270.40 L596.69 271.37 L596.93 272.34 L597.17 273.30 L597.40 274.27 L597.64 275.23 L597.88 276.20 L598.11 277.17 L598.35 278.13 L598.58 279.10 L598.82 280.07 L599.05 281.03 L599.29 282.00 L599.52 282.96 L599.75 283.93 L599.99 284.90 L600.22 285.86 L600.45 286.83 L600.68 287.80 L600.92 288.76 L601.15 289.73 L601.38 290.70 L601.61 291.66 L601.84 292.63 L602.07 293.60 L602.30 294.57 L602.53 295.53 L602.76 296.50 L602.99 297.47 L603.22 298.44 L603.45 299.40 L603.68 300.37 L603.90 301.34 L604.13 302.31 L604.36 303.27 L604.59 304.24 L604.81 305.21 L605.04 306.18 L605.27 307.15 L605.49 308.11 L605.72 309.08 L605.94 310.05 L606.17 311.02 L606.40 311.99 L606.62 312.96 L606.84 313.93 L607.07 314.90 L607.29 315.87 L607.52 316.83 L607.74 317.80 L607.96 318.77 L608.19 319.74 L608.41 320.71 L608.63 321.68 L608.85 322.65 L609.08 323.62 L609.30 324.59 L609.52 325.56 L609.74 326.54 L609.96 327.51 L610.18 328.48 L610.40 329.45 L610.62 330.42 L610.84 331.39 L611.06 332.36 L611.28 333.33 L611.50 334.31 L611.72 335.28 L611.94 336.25 L612.16 337.22 L612.38 338.19 L612.59 339.17 L612.81 340.14 L613.03 341.11 L613.25 342.08 L613.46 343.06 L613.68 344.03 L613.90 345.00 L614.12 345.98 L614.33 346.95 L614.55 347.93 L614.76 348.90 L614.98 349.87 L615.20 350.85 L615.41 351.82 L615.63 352.80 L615.84 353.77 L616.06 354.75 L616.27 355.73 L616.49 356.70 L616.70 357.68 L616.91 358.65 L617.13 359.63 L617.34 360.61 L617.56 361.58 L617.77 362.56 L617.98 363.54 L618.19 364.51 L618.41 365.49 L618.62 366.47 L618.83 367.45 L619.05 368.43 L619.26 369.40 L619.47 370.38 L619.68 371.36 L619.89 372.34 L620.10 373.32 L620.32 374.30 L620.53 375.28 L620.74 376.26 L620.95 377.24 L621.16 378.22 L621.37 379.20 L621.58 380.18 L621.79 381.16 L622.00 382.14 L622.21 383.12 L622.42 384.11 L622.63 385.09 L622.84 386.07 L623.05 387.05 L623.26 388.04 L623.47 389.02 L623.68 390.00 L623.89 390.99 L624.09 391.97 L624.30 392.96 L624.51 393.94 L624.72 394.92 L624.93 395.91 L625.14 396.89 L625.34 397.88 L625.55 398.87 L625.76 399.85 L625.97 400.84 L626.17 401.82 L626.38 402.81 L626.59 403.80 L626.80 404.79 L627.00 405.77 L627.21 406.76 L627.42 407.75 L627.63 408.74 L627.84 409.73 L628.04 410.71 L628.25 411.70 L628.46 412.69 L628.67 413.68 L628.88 414.67 L629.09 415.66 L629.30 416.65 L629.50 417.64 L629.71 418.62 L629.93 419.61 L630.14 420.60 L630.35 421.59 L630.56 422.58 L630.77 423.57 L630.98 424.56 L631.20 425.55 L631.41 426.53 L631.63 427.52 L631.84 428.51 L632.06 429.50 L632.27 430.49 L632.49 431.48 L632.71 432.46 L632.93 433.45 L633.15 434.44 L633.37 435.43 L633.59 436.41 L633.81 437.40 L634.03 438.39 L634.26 439.37 L634.48 440.36 L634.71 441.34 L634.93 442.33 L635.16 443.31 L635.39 444.30 L635.62 445.28 L635.85 446.27 L636.08 447.25 L636.32 448.23 L636.55 449.22 L636.79 450.20 L637.02 451.18 L637.26 452.16 L637.50 453.14 L637.74 454.12 L637.99 455.10 L638.23 456.08 L638.47 457.06 L638.72 458.04 L638.97 459.01 L639.22 459.99 L639.47 460.97 L639.72 461.94 L639.97 462.92 L640.23 463.89 L640.49 464.87 L640.75 465.84 L641.01 466.81 L641.27 467.79 L641.53 468.76 L641.80 469.73 L642.07 470.70 L642.33 471.67 L642.61 472.63 L642.88 473.60 L643.15 474.57 L643.43 475.53 L643.71 476.50 L643.99 477.46 L644.27 478.43 L644.56 479.39 L644.84 480.35 L645.13 481.31 L645.42 482.27 L645.72 483.23 L646.01 484.19 L646.31 485.15 L646.61 486.10 L646.91 487.06 L647.21 488.01 L647.52 488.96 L647.83 489.92 L648.14 490.87 L648.45 491.82 L648.77 492.77 L649.08 493.71 L649.41 494.66 L649.73 495.61 L650.05 496.55 L650.38 497.49 L650.71 498.44 L651.05 499.38 L651.38 500.32 L651.72 501.26 L652.06 502.19 L652.40 503.13 L652.75 504.07 L653.10 505.00 L653.45 505.93 L653.81 506.86 L654.16 507.79 L654.52 508.72 L654.89 509.65 L655.25 510.58 L655.62 511.50 L655.99 512.42 L656.37 513.35 L656.75 514.27 L657.13 515.19 L657.51 516.10 L657.90 517.02 L658.29 517.93 L658.68 518.85 L659.08 519.76 L659.48 520.67 L659.88 521.58 L660.29 522.49 L660.70 523.39 L661.11 524.30 L661.52 525.20 L661.94 526.10 L662.37 527.00 L662.79 527.90 L663.22 528.79 L663.65 529.69 L664.09 530.58 L664.53 531.47 L664.97 532.36 L665.42 533.25 L665.87 534.14 L666.33 535.02 L666.78 535.91 L667.25 536.79 L667.71 537.67 L668.18 538.54 L668.65 539.42 L669.13 540.29 L669.61 541.17 L670.09 542.03 L670.58 542.90 L671.07 543.77 L671.57 544.63 L672.07 545.49 L672.57 546.35 L673.08 547.21 L673.59 548.06 L674.10 548.91 L674.62 549.76 L675.14 550.61 L675.67 551.45 L676.20 552.30 L676.74 553.14 L677.27 553.97 L677.82 554.81 L678.36 555.64 L678.91 556.46 L679.47 557.29 L680.03 558.11 L680.59 558.93 L681.16 559.75 L681.73 560.56 L682.30 561.37 L682.88 562.18 L683.47 562.98 L684.06 563.78 L684.65 564.58 L685.25 565.37 L685.85 566.16 L686.45 566.95 L687.06 567.73 L687.67 568.51 L688.29 569.29 L688.91 570.06 L689.54 570.83 L690.17 571.59 L690.81 572.36 L691.45 573.11 L692.09 573.87 L692.74 574.62 L693.40 575.36 L694.05 576.10 L694.72 576.84 L695.38 577.58 L696.05 578.31 L696.73 579.03 L697.41 579.75 L698.10 580.47 L698.79 581.18 L699.48 581.89 L700.18 582.59 L700.88 583.29 L701.59 583.99 L702.30 584.68 L703.02 585.37 L703.74 586.05 L704.46 586.73 L705.19 587.40 L705.92 588.07 L706.66 588.73 L707.40 589.39 L708.15 590.05 L708.90 590.70 L709.65 591.35 L710.41 591.99 L711.17 592.63 L711.94 593.26 L712.71 593.89 L713.48 594.52 L714.26 595.14 L715.04 595.75 L715.82 596.37 L716.61 596.97 L717.41 597.57 L718.20 598.17 L719.00 598.76 L719.81 599.35 L720.61 599.94 L721.43 600.52 L722.24 601.09 L723.06 601.66 L723.88 602.23 L724.71 602.79 L725.54 603.34 L726.37 603.89 L727.21 604.44 L728.05 604.98 L728.89 605.52 L729.74 606.05 L730.59 606.58 L731.44 607.10 L732.30 607.62 L733.16 608.13 L734.02 608.64 L734.89 609.15 L735.76 609.64 L736.63 610.14 L737.50 610.63 L738.38 611.11 L739.27 611.59 L740.15 612.07 L741.04 612.54 L741.93 613.00 L742.82 613.46 L743.72 613.92 L744.62 614.37 L745.52 614.81 L746.43 615.26 L747.33 615.69 L748.24 616.13 L749.16 616.55 L750.07 616.98 L750.99 617.39 L751.91 617.81 L752.83 618.22 L753.75 618.62 L754.68 619.02 L755.61 619.42 L756.54 619.81 L757.47 620.20 L758.41 620.58 L759.35 620.96 L760.28 621.33 L761.23 621.70 L762.17 622.06 L763.11 622.42 L764.06 622.78 L765.01 623.13 L765.96 623.48 L766.91 623.82 L767.86 624.16 L768.82 624.50 L769.77 624.83 L770.73 625.15 L771.69 625.47 L772.65 625.79 L773.61 626.11 L774.57 626.41 L775.54 626.72 L776.50 627.02 L777.47 627.32 L778.43 627.61 L779.40 627.90 L780.37 628.18 L781.34 628.46 L782.31 628.74 L783.29 629.01 L784.26 629.28 L785.23 629.55 L786.21 629.81 L787.18 630.06 L788.16 630.32 L789.13 630.57 L790.11 630.81 L791.08 631.05 L792.06 631.29 L793.04 631.52 L794.02 631.75 L794.99 631.98 L795.97 632.20 L796.95 632.42 L797.93 632.63 L798.91 632.84 L799.89 633.05 L800.87 633.25 L801.84 633.45 L802.82 633.65 L803.80 633.84 L804.78 634.03 L805.76 634.22 L806.73 634.40 L807.71 634.57 L808.69 634.75 L809.66 634.92 L810.64 635.09 L811.62 635.25 L812.59 635.41 L813.56 635.57 L814.54 635.72 L815.51 635.87" fill="none" stroke="#7f00ff" stroke-width="3.7" stroke-linejoin="miter" stroke-miterlimit="10"/>
<path d="M155.88 650.05 L156.93 649.77 L157.98 649.48 L159.01 649.17 L160.03 648.85 L161.04 648.52 L162.04 648.18 L163.03 647.83 L164.01 647.46 L164.97 647.08 L165.93 646.68 L166.87 646.28 L167.81 645.86 L168.73 645.43 L169.65 644.99 L170.55 644.54 L171.44 644.08 L172.33 643.60 L173.20 643.12 L174.06 642.62 L174.91 642.11 L175.76 641.60 L176.59 641.07 L177.41 640.53 L178.23 639.98 L179.03 639.42 L179.82 638.85 L180.61 638.26 L181.38 637.67 L182.15 637.07 L182.91 636.46 L183.65 635.85 L184.39 635.22 L185.12 634.58 L185.84 633.93 L186.55 633.28 L187.26 632.61 L187.95 631.94 L188.64 631.26 L189.31 630.56 L189.98 629.87 L190.64 629.16 L191.29 628.44 L191.94 627.72 L192.57 626.99 L193.20 626.25 L193.82 625.50 L194.43 624.75 L195.03 623.99 L195.62 623.22 L196.21 622.44 L196.79 621.66 L197.36 620.87 L197.93 620.08 L198.48 619.27 L199.03 618.47 L199.57 617.65 L200.11 616.83 L200.64 616.00 L201.16 615.17 L201.67 614.33 L202.18 613.49 L202.68 612.64 L203.17 611.78 L203.65 610.92 L204.13 610.05 L204.61 609.18 L205.07 608.31 L205.53 607.43 L205.98 606.54 L206.43 605.65 L206.87 604.76 L207.31 603.86 L207.73 602.96 L208.16 602.05 L208.57 601.14 L208.98 600.23 L209.39 599.31 L209.79 598.39 L210.18 597.46 L210.57 596.53 L210.95 595.60 L211.33 594.67 L211.70 593.73 L212.06 592.79 L212.42 591.85 L212.78 590.91 L213.13 589.96 L213.48 589.01 L213.82 588.06 L214.15 587.11 L214.48 586.16 L214.81 585.20 L215.13 584.24 L215.45 583.28 L215.76 582.32 L216.07 581.36 L216.37 580.40 L216.67 579.44 L216.97 578.47 L217.26 577.51 L217.55 576.54 L217.83 575.58 L218.11 574.61 L218.39 573.64 L218.66 572.67 L218.92 571.70 L219.19 570.73 L219.45 569.76 L219.70 568.79 L219.95 567.82 L220.20 566.84 L220.45 565.87 L220.69 564.90 L220.92 563.92 L221.16 562.94 L221.39 561.97 L221.61 560.99 L221.83 560.01 L222.05 559.03 L222.27 558.06 L222.48 557.08 L222.69 556.10 L222.89 555.11 L223.09 554.13 L223.29 553.15 L223.49 552.17 L223.68 551.19 L223.87 550.20 L224.05 549.22 L224.24 548.23 L224.41 547.25 L224.59 546.26 L224.76 545.27 L224.93 544.29 L225.10 543.30 L225.27 542.31 L225.43 541.32 L225.58 540.33 L225.74 539.34 L225.89 538.35 L226.04 537.36 L226.19 536.37 L226.33 535.38 L226.48 534.39 L226.61 533.40 L226.75 532.41 L226.89 531.41 L227.02 530.42 L227.15 529.42 L227.27 528.43 L227.40 527.44 L227.52 526.44 L227.64 525.45 L227.75 524.45 L227.87 523.45 L227.98 522.46 L228.09 521.46 L228.20 520.46 L228.30 519.47 L228.41 518.47 L228.51 517.47 L228.61 516.47 L228.71 515.47 L228.80 514.47 L228.89 513.48 L228.99 512.48 L229.07 511.48 L229.16 510.48 L229.25 509.48 L229.33 508.48 L229.41 507.47 L229.49 506.47 L229.57 505.47 L229.65 504.47 L229.73 503.47 L229.80 502.47 L229.87 501.47 L229.94 500.46 L230.01 499.46 L230.08 498.46 L230.15 497.46 L230.21 496.46 L230.28 495.45 L230.34 494.45 L230.40 493.45 L230.46 492.44 L230.52 491.44 L230.58 490.44 L230.63 489.43 L230.69 488.43 L230.74 487.43 L230.79 486.42 L230.85 485.42 L230.90 484.42 L230.95 483.41 L231.00 482.41 L231.04 481.40 L231.09 480.40 L231.14 479.40 L231.18 478.39 L231.23 477.39 L231.27 476.39 L231.32 475.38 L231.36 474.38 L231.40 473.38 L231.44 472.37 L231.49 471.37 L231.53 470.36 L231.57 469.36 L231.61 468.36 L231.65 467.35 L231.68 466.35 L231.72 465.35 L231.76 464.35 L231.80 463.34 L231.84 462.34 L231.88 461.34 L231.91 460.34 L231.95 459.33 L231.99 458.33 L232.02 457.33 L232.06 456.33 L232.10 455.33 L232.14 454.33 L232.17 453.32 L232.21 452.32 L232.25 451.32 L232.29 450.32 L232.32 449.32 L232.36 448.32 L232.40 447.32 L232.44 446.32 L232.48 445.32 L232.52 444.33 L232.55 443.33 L232.59 442.33 L232.63 441.33 L232.67 440.33 L232.71 439.33 L232.75 438.34 L232.80 437.34 L232.84 436.34 L232.88 435.35 L232.92 434.35 L232.96 433.35 L233.00 432.36 L233.04 431.36 L233.09 430.36 L233.13 429.37 L233.17 428.37 L233.21 427.38 L233.26 426.38 L233.30 425.39 L233.34 424.39 L233.39 423.40 L233.43 422.40 L233.48 421.41 L233.52 420.41 L233.56 419.42 L233.61 418.42 L233.65 417.43 L233.70 416.43 L233.74 415.44 L233.79 414.45 L233.83 413.45 L233.88 412.46 L233.92 411.46 L233.97 410.47 L234.02 409.48 L234.06 408.48 L234.11 407.49 L234.15 406.50 L234.20 405.50 L234.24 404.51 L234.29 403.52 L234.34 402.52 L234.38 401.53 L234.43 400.54 L234.48 399.54 L234.52 398.55 L234.57 397.56 L234.62 396.56 L234.66 395.57 L234.71 394.58 L234.76 393.59 L234.81 392.59 L234.85 391.60 L234.90 390.61 L234.95 389.61 L234.99 388.62 L235.04 387.63 L235.09 386.63 L235.14 385.64 L235.18 384.65 L235.23 383.65 L235.28 382.66 L235.32 381.67 L235.37 380.67 L235.42 379.68 L235.47 378.68 L235.51 377.69 L235.56 376.70 L235.61 375.70 L235.66 374.71 L235.70 373.71 L235.75 372.72 L235.80 371.73 L235.84 370.73 L235.89 369.74 L235.94 368.74 L235.99 367.75 L236.03 366.75 L236.08 365.76 L236.13 364.76 L236.17 363.77 L236.22 362.77 L236.27 361.77 L236.31 360.78 L236.36 359.78 L236.40 358.79 L236.45 357.79 L236.50 356.79 L236.54 355.79 L236.59 354.80 L236.63 353.80 L236.68 352.80 L236.72 351.80 L236.77 350.81 L236.82 349.81 L236.86 348.81 L236.91 347.81 L236.95 346.81 L236.99 345.81 L237.04 344.81 L237.08 343.81 L237.13 342.81 L237.17 341.81 L237.22 340.81 L237.26 339.81 L237.30 338.81 L237.35 337.81 L237.39 336.81 L237.43 335.81 L237.48 334.81 L237.52 333.80 L237.56 332.80 L237.60 331.80 L237.64 330.79 L237.69 329.79 L237.73 328.79 L237.77 327.78 L237.81 326.78 L237.85 325.77 L237.89 324.77 L237.93 323.76 L237.97 322.76 L238.01 321.75 L238.05 320.74 L238.09 319.74 L238.13 318.73 L238.17 317.72 L238.21 316.71 L238.25 315.70 L238.28 314.69 L239.78 314.51 L239.95 315.50 L240.11 316.48 L240.27 317.46 L240.43 318.45 L240.59 319.43 L240.75 320.42 L240.90 321.40 L241.06 322.39 L241.21 323.37 L241.36 324.36 L241.51 325.34 L241.66 326.33 L241.81 327.32 L241.95 328.30 L242.09 329.29 L242.24 330.28 L242.38 331.27 L242.51 332.25 L242.65 333.24 L242.79 334.23 L242.92 335.22 L243.06 336.21 L243.19 337.20 L243.32 338.19 L243.45 339.18 L243.58 340.17 L243.70 341.16 L243.83 342.15 L243.95 343.14 L244.08 344.13 L244.20 345.12 L244.32 346.11 L244.44 347.10 L244.56 348.10 L244.67 349.09 L244.79 350.08 L244.90 351.07 L245.01 352.07 L245.13 353.06 L245.24 354.05 L245.35 355.05 L245.46 356.04 L245.56 357.03 L245.67 358.03 L245.78 359.02 L245.88 360.02 L245.98 361.01 L246.09 362.01 L246.19 363.00 L246.29 364.00 L246.39 364.99 L246.48 365.99 L246.58 366.99 L246.68 367.98 L246.77 368.98 L246.87 369.97 L246.96 370.97 L247.05 371.97 L247.15 372.96 L247.24 373.96 L247.33 374.96 L247.42 375.96 L247.51 376.95 L247.59 377.95 L247.68 378.95 L247.77 379.95 L247.85 380.95 L247.94 381.95 L248.02 382.94 L248.10 383.94 L248.19 384.94 L248.27 385.94 L248.35 386.94 L248.43 387.94 L248.51 388.94 L248.59 389.94 L248.67 390.94 L248.74 391.94 L248.82 392.94 L248.90 393.94 L248.97 394.94 L249.05 395.94 L249.12 396.94 L249.20 397.94 L249.27 398.94 L249.34 399.94 L249.42 400.94 L249.49 401.94 L249.56 402.94 L249.63 403.94 L249.70 404.94 L249.77 405.95 L249.84 406.95 L249.91 407.95 L249.98 408.95 L250.05 409.95 L250.12 410.95 L250.19 411.95 L250.26 412.96 L250.32 413.96 L250.39 414.96 L250.46 415.96 L250.52 416.96 L250.59 417.97 L250.66 418.97 L250.72 419.97 L250.79 420.97 L250.85 421.98 L250.92 422.98 L250.98 423.98 L251.05 424.98 L251.11 425.99 L251.18 426.99 L251.24 427.99 L251.31 428.99 L251.37 430.00 L251.43 431.00 L251.50 432.00 L251.56 433.01 L251.63 434.01 L251.69 435.01 L251.75 436.01 L251.82 437.02 L251.88 438.02 L251.94 439.02 L252.01 440.03 L252.07 441.03 L252.14 442.03 L252.20 443.03 L252.26 444.04 L252.33 445.04 L252.39 446.04 L252.46 447.05 L252.52 448.05 L252.59 449.05 L252.65 450.05 L252.72 451.06 L252.78 452.06 L252.85 453.06 L252.91 454.07 L252.98 455.07 L253.04 456.07 L253.11 457.07 L253.18 458.08 L253.24 459.08 L253.31 460.08 L253.38 461.08 L253.45 462.09 L253.51 463.09 L253.58 464.09 L253.65 465.09 L253.72 466.10 L253.79 467.10 L253.86 468.10 L253.93 469.10 L254.00 470.10 L254.07 471.11 L254.14 472.11 L254.22 473.11 L254.29 474.11 L254.36 475.11 L254.44 476.12 L254.51 477.12 L254.58 478.12 L254.66 479.12 L254.74 480.12 L254.81 481.12 L254.89 482.12 L254.97 483.12 L255.05 484.13 L255.12 485.13 L255.20 486.13 L255.28 487.13 L255.37 488.13 L255.45 489.13 L255.53 490.13 L255.61 491.13 L255.70 492.13 L255.78 493.13 L255.87 494.13 L255.95 495.13 L256.04 496.13 L256.13 497.13 L256.22 498.13 L256.30 499.13 L256.39 500.12 L256.49 501.12 L256.58 502.12 L256.67 503.12 L256.76 504.12 L256.86 505.12 L256.95 506.12 L257.05 507.11 L257.15 508.11 L257.25 509.11 L257.34 510.11 L257.45 511.10 L257.55 512.10 L257.65 513.10 L257.75 514.09 L257.86 515.09 L257.96 516.09 L258.07 517.08 L258.18 518.08 L258.28 519.08 L258.39 520.07 L258.50 521.07 L258.62 522.06 L258.73 523.06 L258.84 524.05 L258.96 525.05 L259.08 526.04 L259.19 527.04 L259.31 528.03 L259.43 529.03 L259.55 530.02 L259.68 531.01 L259.80 532.01 L259.93 533.00 L260.05 533.99 L260.18 534.99 L260.31 535.98 L260.44 536.97 L260.57 537.96 L260.71 538.95 L260.84 539.94 L260.98 540.93 L261.12 541.93 L261.26 542.92 L261.40 543.91 L261.55 544.89 L261.69 545.88 L261.84 546.87 L261.99 547.86 L262.14 548.85 L262.29 549.84 L262.44 550.82 L262.60 551.81 L262.76 552.80 L262.92 553.78 L263.08 554.77 L263.24 555.75 L263.41 556.74 L263.58 557.72 L263.75 558.70 L263.92 559.69 L264.10 560.67 L264.27 561.65 L264.45 562.63 L264.63 563.61 L264.82 564.59 L265.00 565.57 L265.19 566.55 L265.38 567.53 L265.57 568.50 L265.77 569.48 L265.97 570.46 L266.17 571.43 L266.37 572.41 L266.58 573.38 L266.78 574.35 L267.00 575.33 L267.21 576.30 L267.42 577.27 L267.64 578.24 L267.86 579.21 L268.09 580.18 L268.32 581.15 L268.55 582.11 L268.78 583.08 L269.02 584.05 L269.25 585.01 L269.50 585.97 L269.74 586.94 L269.99 587.90 L270.24 588.86 L270.49 589.82 L270.75 590.78 L271.01 591.74 L271.27 592.70 L271.54 593.65 L271.81 594.61 L272.08 595.57 L272.36 596.52 L272.64 597.47 L272.92 598.42 L273.21 599.38 L273.50 600.33 L273.79 601.27 L274.09 602.22 L274.39 603.17 L274.69 604.12 L275.00 605.06 L275.31 606.00 L275.62 606.95 L275.94 607.89 L276.26 608.83 L276.59 609.77 L276.92 610.71 L277.25 611.64 L277.59 612.58 L277.93 613.51 L278.28 614.45 L278.62 615.38 L278.98 616.31 L279.33 617.24 L279.69 618.17 L280.06 619.10 L280.43 620.02 L280.80 620.95 L281.18 621.87 L281.56 622.80 L281.94 623.72 L282.33 624.64 L282.73 625.56 L283.12 626.47 L283.53 627.39 L283.93 628.30 L284.34 629.22 L284.76 630.13 L285.18 631.04 L285.60 631.95 L286.03 632.86 L286.47 633.76 L286.90 634.67 L287.35 635.57 L287.79 636.47 L288.25 637.37 L288.70 638.27 L289.16 639.17 L289.63 640.07 Q291.54 643.64 295.08 645.66 L295.95 646.18 L296.82 646.69 L297.69 647.20 L298.56 647.72 L299.43 648.23 L300.30 648.75 L301.17 649.26 L302.04 649.78 L302.91 650.30 L303.78 650.81 L304.65 651.33 L305.52 651.84 Q309.00 653.90 312.96 654.18 L313.95 654.23 L314.94 654.28 L315.92 654.32 L316.91 654.35 L317.90 654.38 L318.89 654.41 L319.88 654.43 L320.87 654.44 L321.86 654.46 L322.85 654.46 L323.84 654.46 L324.84 654.46 L325.83 654.45 L326.82 654.44 L327.81 654.42 L328.80 654.40 L329.79 654.38 L330.79 654.35 L331.78 654.31 L332.77 654.27 L333.76 654.22 L334.76 654.18 L335.75 654.12 L336.74 654.06 L337.73 654.00 L338.73 653.93 L339.72 653.86 L340.71 653.78 L341.70 653.70 L342.69 653.62 L343.69 653.53 L344.68 653.43 L345.67 653.34 L346.66 653.23 L347.65 653.13 L348.64 653.01 L349.64 652.90 L350.63 652.78 L351.62 652.65 L352.61 652.52 L353.60 652.39 L354.59 652.25 L355.58 652.11 L356.57 651.96 L357.56 651.81 L358.54 651.66 L359.53 651.50 L360.52 651.34 L361.51 651.17 L362.49 651.00 L363.48 650.82 L364.47 650.64 L365.45 650.46 L366.44 650.27 L367.42 650.08 L368.40 649.88 L369.39 649.68 L370.37 649.48 L371.35 649.27 L372.33 649.06 L373.32 648.84 L374.30 648.62 L375.28 648.40 L376.25 648.17 L377.23 647.94 L378.21 647.70 L379.19 647.46 L380.16 647.22 L381.14 646.97 L382.11 646.72 L383.09 646.46 L384.06 646.20 L385.03 645.94 L386.01 645.67 L386.98 645.40 L387.95 645.12 L388.92 644.85 L389.88 644.56 L390.85 644.28 L391.82 643.99 L392.78 643.69 L393.75 643.40 L394.71 643.10 L395.67 642.79 L396.63 642.48 L397.59 642.17 L398.55 641.86 L399.51 641.54 L400.47 641.21 L401.43 640.89 L402.38 640.56 L403.33 640.22 L404.29 639.89 L405.24 639.55 L406.19 639.20 L407.14 638.85 L408.09 638.50 L409.03 638.15 L409.98 637.79 L410.92 637.43 L411.87 637.06 L412.81 636.70 L413.75 636.32 L414.69 635.95 L415.62 635.57 L416.56 635.19 L417.50 634.80 L418.43 634.41 L419.36 634.02 L420.29 633.63 L421.22 633.23 L422.15 632.83 L423.07 632.42 L424.00 632.01 L424.92 631.60 L425.84 631.19 L426.76 630.77 L427.68 630.35 L428.60 629.92 L429.51 629.49 L430.43 629.06 L431.34 628.63 L432.25 628.19 L433.15 627.75 L434.06 627.30 L434.96 626.85 L435.86 626.40 L436.76 625.94 L437.66 625.48 L438.55 625.02 L439.44 624.55 L440.33 624.08 L441.22 623.60 L442.10 623.12 L442.98 622.64 L443.86 622.15 L444.74 621.66 L445.61 621.17 L446.48 620.67 L447.35 620.17 L448.21 619.66 L449.07 619.15 L449.93 618.63 L450.79 618.12 L451.64 617.59 L452.49 617.07 L453.34 616.54 L454.18 616.00 L455.02 615.46 L455.86 614.92 L456.69 614.37 L457.52 613.82 L458.34 613.26 L459.17 612.70 L459.98 612.13 L460.80 611.56 L461.61 610.99 L462.42 610.41 L463.22 609.83 L464.02 609.24 L464.82 608.65 L465.61 608.05 L466.40 607.45 L467.18 606.85 L467.96 606.23 L468.74 605.62 L469.51 605.00 L470.28 604.37 L471.04 603.75 L471.80 603.11 L472.55 602.47 L473.30 601.83 L474.05 601.18 L474.79 600.53 L475.52 599.87 L476.25 599.20 L476.98 598.54 L477.70 597.86 L478.42 597.19 L479.13 596.50 L479.84 595.82 L480.54 595.13 L481.24 594.43 L481.94 593.73 L482.63 593.02 L483.31 592.31 L483.99 591.60 L484.66 590.88 L485.33 590.16 L486.00 589.43 L486.66 588.70 L487.31 587.96 L487.96 587.22 L488.61 586.47 L489.25 585.72 L489.89 584.97 L490.52 584.21 L491.14 583.45 L491.76 582.68 L492.38 581.91 L492.99 581.13 L493.60 580.36 L494.20 579.57 L494.79 578.79 L495.38 577.99 L495.97 577.20 L496.55 576.40 L497.13 575.60 L497.70 574.79 L498.26 573.98 L498.83 573.16 L499.38 572.35 L499.93 571.52 L500.48 570.70 L501.02 569.87 L501.56 569.04 L502.09 568.20 L502.62 567.36 L503.14 566.52 L503.66 565.67 L504.18 564.82 L504.69 563.97 L505.19 563.11 L505.69 562.25 L506.19 561.39 L506.68 560.52 L507.17 559.65 L507.65 558.78 L508.13 557.91 L508.60 557.03 L509.07 556.15 L509.54 555.26 L510.00 554.38 L510.46 553.49 L510.91 552.59 L511.36 551.70 L511.80 550.80 L512.24 549.90 L512.68 549.00 L513.11 548.09 L513.54 547.19 L513.96 546.28 L514.38 545.36 L514.79 544.45 L515.21 543.53 L515.61 542.61 L516.02 541.69 L516.42 540.77 L516.81 539.84 L517.21 538.91 L517.59 537.98 L517.98 537.05 L518.36 536.11 L518.74 535.18 L519.11 534.24 L519.48 533.30 L519.84 532.36 L520.21 531.41 L520.57 530.47 L520.92 529.52 L521.27 528.57 L521.62 527.62 L521.97 526.67 L522.31 525.72 L522.64 524.76 L522.98 523.81 L523.31 522.85 L523.64 521.89 L523.96 520.93 L524.28 519.97 L524.60 519.01 L524.91 518.04 L525.22 517.08 L525.53 516.11 L525.84 515.14 L526.14 514.18 L526.44 513.21 L526.73 512.24 L527.02 511.27 L527.31 510.30 L527.60 509.32 L527.88 508.35 L528.16 507.38 L528.44 506.40 L528.71 505.43 L528.98 504.45 L529.25 503.47 L529.52 502.50 L529.78 501.52 L530.04 500.54 L530.30 499.56 L530.55 498.59 L530.80 497.61 L531.05 496.63 L531.30 495.65 L531.54 494.67 L531.78 493.69 L532.02 492.71 L532.26 491.73 L532.49 490.75 L532.72 489.77 L532.95 488.79 L533.17 487.81 L533.40 486.83 L533.62 485.85 L533.84 484.87 L534.05 483.89 L534.26 482.91 L534.48 481.93 L534.68 480.95 L534.89 479.97 L535.09 478.99 L535.29 478.01 L535.49 477.03 L535.69 476.05 L535.88 475.07 L536.07 474.08 L536.26 473.10 L536.45 472.12 L536.63 471.14 L536.82 470.16 L537.00 469.17 L537.17 468.19 L537.35 467.21 L537.52 466.23 L537.69 465.24 L537.86 464.26 L538.03 463.28 L538.19 462.29 L538.35 461.31 L538.51 460.33 L538.67 459.34 L538.82 458.36 L538.98 457.37 L539.13 456.39 L539.28 455.40 L539.42 454.42 L539.57 453.43 L539.71 452.45 L539.85 451.46 L539.99 450.47 L540.13 449.49 L540.26 448.50 L540.39 447.52 L540.52 446.53 L540.65 445.54 L540.78 444.55 L540.90 443.57 L541.02 442.58 L541.14 441.59 L541.26 440.60 L541.38 439.61 L541.49 438.62 L541.60 437.63 L541.71 436.64 L541.82 435.65 L541.93 434.66 L542.03 433.67 L542.14 432.68 L542.24 431.69 L542.34 430.70 L542.43 429.71 L542.53 428.72 L542.62 427.72 L542.72 426.73 L542.81 425.74 L542.90 424.74 L542.98 423.75 L543.07 422.76 L543.15 421.76 L543.23 420.77 L543.31 419.77 L543.39 418.78 L543.47 417.78 L543.54 416.79 L543.62 415.79 L543.69 414.79 L543.76 413.80 L543.83 412.80 L543.89 411.80 L543.96 410.80 L544.02 409.80 L544.08 408.81 L544.14 407.81 L544.20 406.81" fill="none" stroke="#ff0000" stroke-width="3.7" stroke-linejoin="miter" stroke-miterlimit="10"/>
<path d="M546.99 52.50 L547.27 53.47 L547.55 54.43 L547.82 55.39 L548.10 56.35 L548.38 57.32 L548.66 58.28 L548.94 59.24 L549.22 60.21 L549.50 61.17 L549.78 62.13 L550.05 63.09 L550.33 64.06 L550.61 65.02 L550.89 65.98 L551.17 66.94 L551.45 67.91 L551.73 68.87 L552.01 69.83 L552.29 70.79 L552.57 71.75 L552.85 72.72 L553.14 73.68 L553.42 74.64 L553.70 75.60 L553.98 76.56 L554.26 77.53 L554.54 78.49 L554.82 79.45 L555.10 80.41 L555.38 81.37 L555.67 82.33 L555.95 83.30 L556.23 84.26 L556.51 85.22 L556.79 86.18 L557.07 87.14 L557.36 88.10 L557.64 89.06 L557.92 90.02 L558.20 90.99 L558.49 91.95 L558.77 92.91 L559.05 93.87 L559.33 94.83 L559.62 95.79 L559.90 96.75 L560.18 97.71 L560.46 98.67 L560.75 99.63 L561.03 100.59 L561.31 101.56 L561.60 102.52 L561.88 103.48 L562.16 104.44 L562.45 105.40 L562.73 106.36 L563.01 107.32 L563.30 108.28 L563.58 109.24 L563.87 110.20 L564.15 111.16 L564.43 112.12 L564.72 113.08 L565.00 114.04 L565.28 115.00 L565.57 115.96 L565.85 116.92 L566.14 117.88 L566.42 118.84 L566.70 119.80 L566.99 120.76 L567.27 121.72 L567.56 122.68 L567.84 123.64 L568.13 124.60 L568.41 125.56 L568.69 126.52 L568.98 127.48 L569.26 128.44 L569.55 129.40 L569.83 130.36 L570.12 131.32 L570.40 132.28 L570.68 133.24 L570.97 134.20 L571.25 135.16 L571.54 136.12 L571.82 137.08 L572.11 138.04 L572.39 139.00 L572.68 139.96 L572.96 140.92 L573.25 141.88 L573.53 142.84 L573.81 143.80 L574.10 144.76 L574.38 145.72 L574.67 146.68 L574.95 147.64 L575.24 148.59 L575.52 149.55 L575.81 150.51 L576.09 151.47 L576.37 152.43 L576.66 153.39 L576.94 154.35 L577.23 155.31 L577.51 156.27 L577.80 157.23 L578.08 158.19 L578.36 159.15 L578.65 160.11 L578.93 161.07 L579.22 162.03 L579.50 162.99 L579.79 163.95 L580.07 164.91 L580.35 165.87 L580.64 166.83 L580.92 167.79 L581.20 168.75 L581.49 169.71 L581.77 170.66 L582.06 171.62 L582.34 172.58 L582.62 173.54 L582.91 174.50 L583.19 175.46 L583.47 176.42 L583.76 177.38 L584.04 178.34 L584.32 179.30 L584.61 180.26 L584.89 181.22 L585.17 182.18 L585.46 183.14 L585.74 184.10 L586.02 185.06 L586.31 186.02 L586.59 186.98 L586.87 187.94 L587.15 188.90 L587.44 189.86 L587.72 190.82 L588.00 191.78 L588.28 192.74 L588.57 193.70 L588.85 194.66 L589.13 195.62 L589.41 196.58 L589.69 197.54 L589.97 198.50 L590.26 199.46 L590.54 200.42 L590.82 201.38 L591.10 202.34 L591.38 203.30 L591.66 204.26 L591.94 205.22 L592.23 206.18 L592.51 207.14 L592.79 208.10 L593.07 209.06 L593.35 210.02 L593.63 210.98 L593.91 211.94 L594.19 212.90 L594.47 213.86 L594.75 214.82 L595.03 215.78 L595.31 216.74 L595.59 217.71 L595.87 218.67 L596.15 219.63 L596.43 220.59 L596.71 221.55 L596.98 222.51 L597.26 223.47 L597.54 224.43 L597.82 225.39 L598.10 226.35 L598.38 227.31 L598.65 228.28 L598.93 229.24 L599.21 230.20 L599.49 231.16 L599.77 232.12 L600.04 233.08 L600.32 234.04 L600.60 235.00 L600.87 235.97 L601.15 236.93 L601.43 237.89 L601.70 238.85 L601.98 239.81 L602.26 240.77 L602.53 241.74 L602.81 242.70 L603.08 243.66 L603.36 244.62 L603.64 245.58 L603.91 246.55 L604.19 247.51 L604.46 248.47 L604.73 249.43 L605.01 250.39 L605.28 251.36 L605.56 252.32 L605.83 253.28 L606.11 254.24 L606.38 255.21 L606.65 256.17 L606.93 257.13 L607.20 258.09 L607.47 259.06 L607.74 260.02 L608.02 260.98 L608.29 261.95 L608.56 262.91 L608.83 263.87 L609.10 264.84 L609.38 265.80 L609.65 266.76 L609.92 267.73 L610.19 268.69 L610.46 269.65 L610.73 270.62 L611.00 271.58 L611.27 272.54 L611.54 273.51 L611.81 274.47 L612.08 275.43 L612.35 276.40 L612.62 277.36 L612.88 278.33 L613.15 279.29 L613.42 280.26 L613.69 281.22 L613.96 282.18 L614.22 283.15 L614.49 284.11 L614.76 285.08 L615.03 286.04 L615.29 287.01 L615.56 287.97 L615.82 288.94 L616.09 289.90 L616.36 290.87 L616.62 291.83 L616.89 292.80 L617.15 293.76 L617.42 294.73 L617.68 295.70 L617.95 296.66 L618.21 297.63 L618.47 298.59 L618.74 299.56 L619.00 300.53 L619.26 301.49 L619.52 302.46 L619.79 303.42 L620.05 304.39 L620.31 305.36 L620.57 306.32 L620.83 307.29 L621.09 308.26 L621.36 309.22 L621.62 310.19 L621.88 311.16 L622.14 312.13 L622.40 313.09 L622.65 314.06 L622.91 315.03 L623.17 316.00 L623.43 316.96 L623.69 317.93 L623.95 318.90 L624.21 319.87 L624.46 320.83 L624.72 321.80 L624.98 322.77 L625.23 323.74 L625.49 324.71 L625.74 325.68 L626.00 326.65 L626.26 327.61 L626.51 328.58 L626.77 329.55 L627.02 330.52 L627.27 331.49 L627.53 332.46 L627.78 333.43 L628.03 334.40 L628.29 335.37 L628.54 336.34 L628.79 337.31 L629.04 338.28 L629.29 339.25 L629.55 340.22 L629.80 341.19 L630.05 342.16 L630.30 343.13 L630.55 344.10 L630.80 345.07 L631.05 346.04 L631.30 347.01 L631.55 347.98 L631.80 348.95 L632.04 349.93 L632.29 350.90 L632.54 351.87 L632.79 352.84 L633.04 353.81 L633.29 354.78 L633.54 355.75 L633.79 356.72 L634.03 357.69 L634.28 358.67 L634.53 359.64 L634.78 360.61 L635.03 361.58 L635.28 362.55 L635.53 363.52 L635.78 364.49 L636.03 365.46 L636.28 366.43 L636.53 367.41 L636.78 368.38 L637.03 369.35 L637.28 370.32 L637.53 371.29 L637.78 372.26 L638.03 373.23 L638.28 374.20 L638.54 375.17 L638.79 376.14 L639.04 377.11 L639.30 378.08 L639.55 379.05 L639.81 380.02 L640.06 380.99 L640.32 381.96 L640.57 382.92 L640.83 383.89 L641.09 384.86 L641.34 385.83 L641.60 386.80 L641.86 387.77 L642.12 388.73 L642.38 389.70 L642.64 390.67 L642.91 391.64 L643.17 392.60 L643.43 393.57 L643.70 394.54 L643.96 395.50 L644.23 396.47 L644.49 397.43 L644.76 398.40 L645.03 399.36 L645.30 400.33 L645.57 401.29 L645.84 402.26 L646.11 403.22 L646.39 404.18 L646.66 405.15 L646.94 406.11 L647.21 407.07 L647.49 408.04 L647.77 409.00 L648.05 409.96 L648.33 410.92 L648.61 411.88 L648.89 412.84 L649.18 413.80 L649.46 414.76 L649.75 415.72 L650.04 416.68 L650.33 417.64 L650.62 418.60 L650.91 419.55 L651.20 420.51 L651.49 421.47 L651.79 422.42 L652.09 423.38 L652.38 424.33 L652.68 425.29 L652.99 426.24 L653.29 427.20 L653.59 428.15 L653.90 429.10 L654.20 430.06 L654.51 431.01 L654.82 431.96 L655.13 432.91 L655.45 433.86 L655.76 434.81 L656.08 435.76 L656.40 436.71 L656.72 437.66 L657.04 438.61 L657.36 439.55 L657.69 440.50 L658.01 441.45 L658.34 442.39 L658.67 443.34 L659.01 444.28 L659.34 445.23 L659.67 446.17 L660.01 447.11 L660.35 448.06 L660.69 449.00 L661.04 449.94 L661.38 450.88 L661.73 451.82 L662.08 452.76 L662.43 453.69 L662.78 454.63 L663.14 455.57 L663.50 456.51 L663.86 457.44 L664.22 458.38 L664.58 459.31 L664.95 460.24 L665.31 461.18 L665.69 462.11 L666.06 463.04 L666.43 463.97 L666.81 464.90 L667.19 465.83 L667.57 466.75 L667.96 467.68 L668.34 468.61 L668.73 469.53 L669.12 470.45 L669.52 471.38 L669.91 472.30 L670.31 473.22 L670.72 474.14 L671.12 475.05 L671.53 475.97 L671.94 476.88 L672.35 477.80 L672.77 478.71 L673.18 479.62 L673.61 480.53 L674.03 481.44 L674.46 482.34 L674.89 483.25 L675.32 484.15 L675.76 485.05 L676.19 485.95 L676.64 486.85 L677.08 487.75 L677.53 488.64 L677.98 489.53 L678.44 490.43 L678.89 491.31 L679.35 492.20 L679.82 493.09 L680.29 493.97 L680.76 494.85 L681.23 495.73 L681.71 496.61 L682.19 497.49 L682.68 498.36 L683.16 499.23 L683.66 500.10 L684.15 500.97 L684.65 501.83 L685.15 502.69 L685.66 503.56 L686.17 504.41 L686.68 505.27 L687.20 506.12 L687.72 506.97 L688.24 507.82 L688.77 508.67 L689.30 509.51 L689.84 510.35 L690.38 511.19 L690.93 512.03 L691.47 512.86 L692.03 513.69 L692.58 514.52 L693.14 515.34 L693.71 516.16 L694.27 516.98 L694.85 517.80 L695.42 518.62 L696.00 519.43 L696.58 520.24 L697.17 521.04 L697.76 521.85 L698.36 522.65 L698.96 523.44 L699.56 524.24 L700.16 525.03 L700.77 525.82 L701.39 526.61 L702.00 527.39 L702.63 528.18 L703.25 528.96 L703.88 529.73 L704.51 530.50 L705.15 531.28 L705.78 532.04 L706.43 532.81 L707.07 533.57 L707.72 534.33 L708.38 535.09 L709.03 535.84 L709.69 536.59 L710.36 537.34 L711.03 538.09 L711.70 538.83 L712.37 539.57 L713.05 540.31 L713.73 541.04 L714.41 541.77 L715.10 542.50 L715.79 543.23 L716.49 543.95 L717.18 544.67 L717.88 545.38 L718.59 546.10 L719.30 546.81 L720.01 547.52 L720.72 548.22 L721.44 548.93 L722.16 549.63 L722.88 550.32 L723.60 551.02 L724.33 551.71 L725.06 552.39 L725.80 553.08 L726.54 553.76 L727.28 554.44 L728.02 555.11 L728.76 555.79 L729.51 556.46 L730.26 557.12 L731.02 557.79 L731.78 558.45 L732.53 559.10 L733.30 559.76 L734.06 560.41 L734.83 561.06 L735.60 561.70 L736.37 562.35 L737.15 562.99 L737.92 563.62 L738.70 564.26 L739.48 564.88 L740.27 565.51 L741.06 566.14 L741.85 566.76 L742.64 567.37 L743.43 567.99 L744.23 568.60 L745.03 569.21 L745.83 569.81 L746.63 570.41 L747.43 571.01 L748.24 571.61 L749.05 572.20 L749.86 572.79 L750.68 573.37 L751.49 573.95 L752.31 574.53 L753.13 575.10 L753.96 575.67 L754.78 576.24 L755.61 576.80 L756.44 577.36 L757.27 577.91 L758.11 578.47 L758.94 579.01 L759.78 579.56 L760.62 580.09 L761.47 580.63 L762.32 581.16 L763.16 581.69 L764.01 582.21 L764.87 582.73 L765.72 583.24 L766.58 583.75 L767.44 584.26 L768.30 584.76 L769.17 585.26 L770.04 585.75 L770.91 586.23 L771.78 586.72 L772.65 587.20 L773.53 587.67 L774.41 588.14 L775.29 588.60 L776.17 589.06 L777.06 589.52 L777.95 589.96 L778.84 590.41 L779.73 590.85 L780.63 591.28 L781.53 591.71 L782.43 592.14 L783.33 592.56 L784.24 592.97 L785.14 593.38 L786.06 593.78 L786.97 594.18 L787.88 594.57 L788.80 594.96 L789.72 595.34 L790.64 595.72 L791.57 596.09 L792.50 596.45 L793.43 596.81 L794.36 597.16 L795.29 597.51 L796.23 597.85 L797.17 598.19 L798.11 598.52 L799.06 598.84 L800.00 599.16 L800.95 599.47 L801.91 599.78 L802.86 600.08 L803.82 600.37 L804.78 600.66 L805.74 600.94 L806.70 601.22 L807.67 601.48 L808.64 601.75 L809.61 602.00 L810.59 602.25 L811.56 602.49 L812.54 602.73 L813.53 602.96 L814.51 603.18 L815.50 603.40" fill="none" stroke="#ff0000" stroke-width="3.7" stroke-linejoin="miter" stroke-miterlimit="10"/>
<line x1="546.7" y1="52.5" x2="544.9" y2="406.7" stroke="#ff0000" stroke-width="2.3" stroke-dasharray="11.7 6.79" stroke-dashoffset="12.4"/>
<line x1="569.8" y1="171.7" x2="568.0" y2="428.4" stroke="#6600a6" stroke-width="2.3" stroke-dasharray="11.6 6.83" stroke-dashoffset="14.6"/>
<line x1="478.5" y1="427.0" x2="559.4" y2="505.7" stroke="#000" stroke-width="2.3"/>
<line x1="469.5" y1="555.3" x2="549.8" y2="633.4" stroke="#000" stroke-width="2.3"/>
<g opacity="0.999">
<text transform="translate(212.60 758.65) scale(1 1.022)" font-size="39.4" text-anchor="middle">0.6</text>
<text transform="translate(322.18 758.65) scale(1 1.022)" font-size="39.4" text-anchor="middle">0.8</text>
<text transform="translate(431.76 758.65) scale(1 1.022)" font-size="39.4" text-anchor="middle">1.0</text>
<text transform="translate(541.34 758.65) scale(1 1.022)" font-size="39.4" text-anchor="middle">1.2</text>
<text transform="translate(650.92 758.65) scale(1 1.022)" font-size="39.4" text-anchor="middle">1.4</text>
<text transform="translate(760.50 758.65) scale(1 1.022)" font-size="39.4" text-anchor="middle">1.6</text>
<text transform="translate(127.6 704.55) scale(1 1.028)" font-size="39.4" text-anchor="end">0.0</text>
<text transform="translate(127.6 593.87) scale(1 1.028)" font-size="39.4" text-anchor="end">0.1</text>
<text transform="translate(127.6 483.19) scale(1 1.028)" font-size="39.4" text-anchor="end">0.2</text>
<text transform="translate(127.6 372.51) scale(1 1.028)" font-size="39.4" text-anchor="end">0.3</text>
<text transform="translate(127.6 261.83) scale(1 1.028)" font-size="39.4" text-anchor="end">0.4</text>
<text transform="translate(127.6 151.15) scale(1 1.028)" font-size="39.4" text-anchor="end">0.5</text>
<text transform="translate(127.6 40.47) scale(1 1.028)" font-size="39.4" text-anchor="end">0.6</text>
<text transform="translate(355.1 548.35) scale(1 1.0259)" font-size="38.06" text-anchor="start">100 mV</text>
<text transform="translate(361.3 417.75) scale(1 0.9897)" font-size="38.74" text-anchor="start">250 mV</text>
<text transform="translate(569.0 106.15) scale(1 1.0301)" font-size="38.59" text-anchor="start">400 mV</text>
<text transform="translate(143.65 72.15) scale(1 1.0138)" font-size="46.01" text-anchor="start">(b)</text>
<text transform="translate(215.05 819.55) scale(1 1.0031)" font-size="39.28" text-anchor="start">Excitation</text>
<text transform="translate(408.2 819.5) scale(1 1.0139)" font-size="38.6" text-anchor="start">frequency</text>
<text transform="translate(643.8 819.5) scale(1 0.9939)" font-size="39.1" text-anchor="start">(GHz)</text>
<text transform="translate(51.25 646.7) rotate(-90) scale(1 1.1281)" font-size="38.5">AC</text>
<text transform="translate(49.75 571.95) rotate(-90) scale(1 1.0699)" font-size="38.6">component</text>
<text transform="translate(50.25 357.35) rotate(-90) scale(1 1.017)" font-size="38.5">of</text>
<text transform="translate(55.0 304.85) rotate(-90) scale(1 1.0948)" font-size="43.32" style="font-family:'Liberation Serif',serif;font-style:italic;">J</text>
<text transform="translate(33.25 282.7) rotate(-90) scale(1 0.941)" font-size="30.51" style="font-family:'Liberation Serif',serif;font-style:italic;">s</text>
<text transform="translate(60.75 288.1) rotate(-90) scale(1 0.9495)" font-size="29.29" style="font-family:'Liberation Serif',serif;">32</text>
<text transform="translate(50.75 235.35) rotate(-90) scale(1 1.1172)" font-size="35.72">(</text>
<text transform="translate(50.5 220.85) rotate(-90) scale(1 0.9618)" font-size="40.31" style="font-style:italic;">μ</text>
<text transform="translate(51.0 200.85) rotate(-90) scale(1 1.0536)" font-size="39.73">J</text>
<text transform="translate(50.75 170.9) rotate(-90) scale(1 1.0659)" font-size="38.86">m</text>
<text transform="translate(38.25 129.7) rotate(-90) scale(1 1.8037)" font-size="21.56">−</text>
<text transform="translate(32.75 115.75) rotate(-90) scale(1 0.8608)" font-size="33.01">2</text>
<text transform="translate(50.25 96.55) rotate(-90) scale(1 1.0612)" font-size="36.59">)</text>
</g>
<rect x="406.35" y="728.05" width="18.91" height="31.81" fill="#fff"/><path transform="translate(404.38 758.65) scale(39.4 -40.267)" d="M.352,0 V.705 H.280 C.270,.640 .238,.590 .170,.582 L.104,.577 V.492 H.257 V0 Z" fill="#000"/>
<rect x="515.93" y="728.05" width="18.91" height="31.81" fill="#fff"/><path transform="translate(513.96 758.65) scale(39.4 -40.267)" d="M.352,0 V.705 H.280 C.270,.640 .238,.590 .170,.582 L.104,.577 V.492 H.257 V0 Z" fill="#000"/>
<rect x="625.51" y="728.05" width="18.91" height="31.81" fill="#fff"/><path transform="translate(623.54 758.65) scale(39.4 -40.267)" d="M.352,0 V.705 H.280 C.270,.640 .238,.590 .170,.582 L.104,.577 V.492 H.257 V0 Z" fill="#000"/>
<rect x="735.09" y="728.05" width="18.91" height="31.81" fill="#fff"/><path transform="translate(733.12 758.65) scale(39.4 -40.267)" d="M.352,0 V.705 H.280 C.270,.640 .238,.590 .170,.582 L.104,.577 V.492 H.257 V0 Z" fill="#000"/>
<rect x="107.66" y="563.09" width="18.91" height="32.00" fill="#fff"/><path transform="translate(105.69 593.87) scale(39.4 -40.503)" d="M.352,0 V.705 H.280 C.270,.640 .238,.590 .170,.582 L.104,.577 V.492 H.257 V0 Z" fill="#000"/>
<rect x="357.00" y="518.68" width="18.27" height="30.85" fill="#fff"/><path transform="translate(355.10 548.35) scale(38.06 -39.046)" d="M.352,0 V.705 H.280 C.270,.640 .238,.590 .170,.582 L.104,.577 V.492 H.257 V0 Z" fill="#000"/>
<g role="img" aria-label="f"><title>f</title><path transform="translate(590 780) scale(0.06562)" d="M505,203 C505,234 450,240 449,200 C449,188 440,178 428,178 C405,178 385,215 372,268 L296,600 C282,665 255,748 198,748 C160,748 138,735 138,710 C138,675 193,672 194,708 C195,718 203,722 212,722 C228,722 236,670 246,612 L318,282 C335,205 380,152 432,152 C475,152 505,175 505,203 Z M250,310 H440 V326 H250 Z" fill="#000"/></g>
</svg>
</body></html>
